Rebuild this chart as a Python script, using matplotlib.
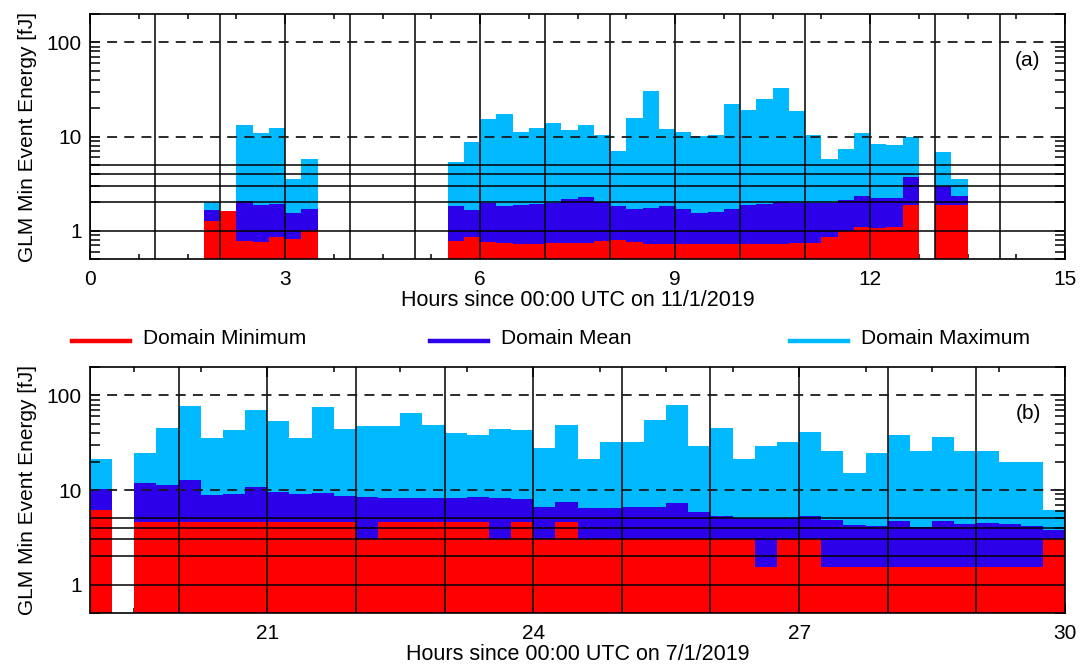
import numpy as np
import matplotlib
matplotlib.use('Agg')
import matplotlib.pyplot as plt
from matplotlib.lines import Line2D
from matplotlib.ticker import FixedLocator, FuncFormatter, LogLocator, NullFormatter

plt.rcParams['font.family'] = ['Liberation Sans', 'DejaVu Sans']
plt.rcParams['font.size'] = 15

# 15-minute bins, start times (hours)
hours_a = [1.75, 2.0, 2.25, 2.5, 2.75, 3.0, 3.25,
           5.5, 5.75, 6.0, 6.25, 6.5, 6.75, 7.0, 7.25, 7.5, 7.75,
           8.0, 8.25, 8.5, 8.75, 9.0, 9.25, 9.5, 9.75, 10.0, 10.25,
           10.5, 10.75, 11.0, 11.25, 11.5, 11.75, 12.0, 12.25, 12.5,
           13.0, 13.25]
max_a = [2.0, 1.6, 13.2, 11.0, 12.2, 3.5, 5.7,
         5.3, 8.7, 15.2, 17.3, 11.1, 12.2, 13.8, 11.6, 13.2, 10.3,
         7.0, 15.7, 30.3, 12.0, 11.1, 10.1, 10.5, 22.1, 18.9, 24.8,
         32.4, 18.5, 10.5, 5.7, 7.45, 10.8, 8.4, 8.2, 9.8,
         6.8, 3.5]
mean_a = [1.67, 1.6, 2.05, 1.86, 1.9, 1.55, 1.71,
          1.81, 1.67, 1.99, 1.81, 1.86, 1.94, 1.99, 2.15, 2.26, 2.03,
          1.81, 1.69, 1.73, 1.81, 1.69, 1.53, 1.59, 1.69, 1.86, 1.94,
          2.02, 1.99, 1.97, 1.97, 2.14, 2.36, 2.24, 2.24, 3.75,
          2.97, 2.36]
min_a = [1.28, 1.6, 0.77, 0.75, 0.85, 0.81, 1.02,
         0.78, 0.85, 0.76, 0.745, 0.73, 0.73, 0.745, 0.745, 0.745, 0.78,
         0.80, 0.76, 0.73, 0.73, 0.73, 0.73, 0.73, 0.73, 0.73, 0.73,
         0.73, 0.745, 0.745, 0.86, 0.98, 1.10, 1.08, 1.10, 1.89,
         1.86, 1.86]

hours_b = [19.0, 19.5, 19.75, 20.0, 20.25, 20.5, 20.75, 21.0, 21.25, 21.5, 21.75,
           22.0, 22.25, 22.5, 22.75, 23.0, 23.25, 23.5, 23.75, 24.0, 24.25,
           24.5, 24.75, 25.0, 25.25, 25.5, 25.75, 26.0, 26.25, 26.5, 26.75,
           27.0, 27.25, 27.5, 27.75, 28.0, 28.25, 28.5, 28.75, 29.0, 29.25,
           29.5, 29.75]
max_b = [21.4, 24.9, 45.7, 78.3, 35.7, 43.5, 70.9, 54.3, 35.7, 76.4, 44.5,
         47.9, 47.9, 65.9, 49.2, 40.4, 38.4, 44.5, 43.5, 28.0, 49.2,
         21.4, 32.4, 32.4, 55.6, 80.2, 29.4, 45.7, 21.4, 29.4, 32.4,
         41.4, 26.0, 15.3, 24.9, 38.4, 26.0, 36.6, 26.0, 26.0, 20.0,
         20.0, 6.17]
mean_b = [10.2, 11.9, 11.4, 12.8, 8.85, 9.07, 10.8, 9.5, 9.14, 9.3, 8.6,
          8.43, 8.2, 8.2, 8.2, 8.2, 8.43, 8.2, 8.0, 6.6, 7.45,
          6.43, 6.43, 6.6, 6.6, 7.27, 5.84, 5.29, 5.04, 5.04, 5.04,
          5.29, 4.83, 4.24, 4.17, 4.72, 4.04, 4.72, 4.35, 4.45, 4.35,
          4.17, 3.78]
min_b = [6.17, 4.6, 4.6, 4.6, 4.6, 4.6, 4.6, 4.6, 4.6, 4.6, 4.6,
         3.0, 4.6, 4.6, 4.6, 4.6, 4.6, 3.0, 4.6, 3.0, 4.6,
         3.0, 3.0, 3.0, 3.0, 3.0, 3.0, 3.0, 3.0, 1.53, 3.0,
         3.0, 1.53, 1.53, 1.53, 1.53, 1.53, 1.53, 1.53, 1.53, 1.53,
         1.53, 3.0]

c_min = '#FF0000'
c_mean = '#2C00E8'
c_max = '#00B9FF'
bw = 0.25
base = 0.1

fig = plt.figure(figsize=(10.89, 6.67), dpi=100)
ax_a = fig.add_axes([90/1089, 1-259/667, 975/1089, 245/667])
ax_b = fig.add_axes([90/1089, 1-613/667, 975/1089, 246/667])


def draw_panel(ax, hrs, vmax, vmean, vmin, xlim, xmajor, xlabel, tag):
    ax.set_yscale('log')
    for vals, col, z in [(vmax, c_max, 1), (vmean, c_mean, 2), (vmin, c_min, 3)]:
        ax.bar(hrs, np.array(vals) - base, bw, align='edge', bottom=base,
               color=col, lw=0, zorder=z)
    for h in range(int(np.ceil(xlim[0])), int(xlim[1]) + 1):
        ax.axvline(h, color='k', lw=1.1, zorder=5)
    for v in [1, 2, 3, 4, 5]:
        ax.axhline(v, color='k', lw=1.1, zorder=5)
    for v in [10, 100]:
        ax.axhline(v, color='0.1', lw=1.3, ls=(0, (5.5, 4)), zorder=5)
    ax.set_xlim(xlim)
    ax.set_ylim(0.5, 200)
    ax.xaxis.set_major_locator(FixedLocator(xmajor))
    ax.xaxis.set_minor_locator(FixedLocator(np.arange(xmajor[0] - 3, xlim[1] + 0.01, 0.75)))
    ax.yaxis.set_major_locator(FixedLocator([1, 10, 100]))
    ax.yaxis.set_minor_locator(LogLocator(base=10, subs=np.arange(2, 10)))
    ax.yaxis.set_major_formatter(FuncFormatter(lambda v, p: '%g' % v))
    ax.yaxis.set_minor_formatter(NullFormatter())
    ax.tick_params(which='both', direction='in', top=True, right=True, width=1.1)
    ax.tick_params(axis='y', which='both', length=7, pad=6)
    ax.tick_params(axis='x', which='major', length=7, pad=8)
    ax.tick_params(axis='x', which='minor', length=3.5)
    for s in ax.spines.values():
        s.set_linewidth(1.2)
        s.set_zorder(6)
    ax.set_xlabel(xlabel, labelpad=1, fontsize=15.5)
    ax.set_ylabel('GLM Min Event Energy [fJ]', labelpad=7)
    ax.text(0.962, 0.812, tag, transform=ax.transAxes, ha='center', va='center', zorder=7)


draw_panel(ax_a, hours_a, max_a, mean_a, min_a, (0, 15), [0, 3, 6, 9, 12, 15],
           'Hours since 00:00 UTC on 11/1/2019', '(a)')
draw_panel(ax_b, hours_b, max_b, mean_b, min_b, (19, 30), [21, 24, 27, 30],
           'Hours since 00:00 UTC on 7/1/2019', '(b)')

# legend between the panels
leg_y = 1 - 341/667
for x0, lbl, col in [(72, 'Domain Minimum', c_min), (430, 'Domain Mean', c_mean),
                     (790, 'Domain Maximum', c_max)]:
    fig.add_artist(Line2D([x0/1089, (x0 + 58)/1089], [leg_y, leg_y], color=col, lw=3.2))
    fig.text((x0 + 71)/1089, leg_y + 0.004, lbl, ha='left', va='center')

fig.savefig('out.png', dpi=100)
